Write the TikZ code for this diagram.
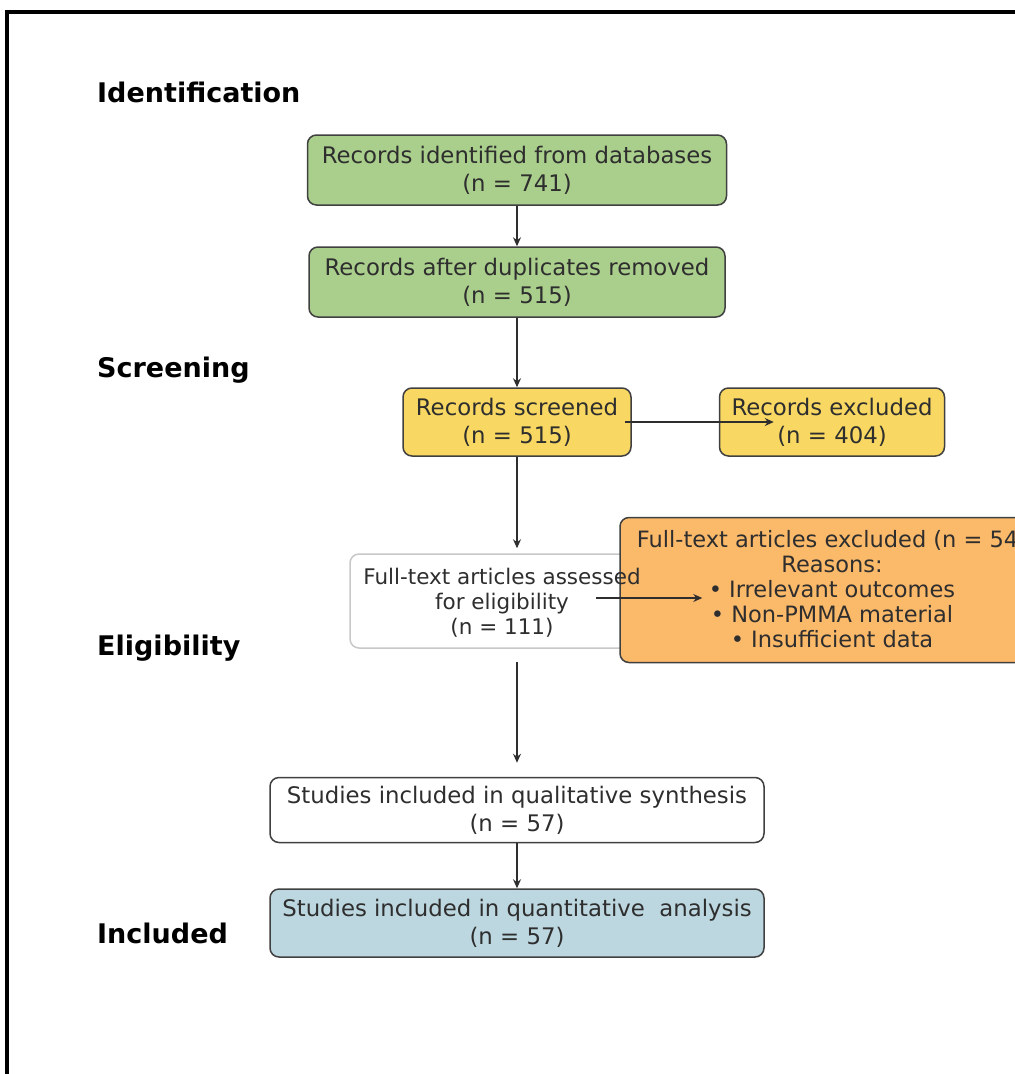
\documentclass[tikz,border=0pt]{standalone}
\usepackage{fontspec}
\setmainfont{DejaVu Sans}
\usepackage{tikz}
\usetikzlibrary{arrows.meta}

\definecolor{boxgreen}{HTML}{AACF8C}
\definecolor{boxyellow}{HTML}{F8D862}
\definecolor{boxorange}{HTML}{FBB96A}
\definecolor{boxblue}{HTML}{BDD7E0}
\definecolor{textgray}{HTML}{2E2E2E}
\definecolor{boxline}{HTML}{404040}
\definecolor{lightline}{HTML}{C8C8C8}

\begin{document}
\begin{tikzpicture}[
        x=1pt, y=-1pt,
        box/.style={draw=boxline, line width=1.5pt, rounded corners=9pt,
            align=center, text=textgray, inner sep=0pt,
            font=\fontsize{22.8}{28}\selectfont},
        boxtext/.style={align=center, text=textgray, inner sep=0pt,
            font=\fontsize{21.5}{25}\selectfont},
        phase/.style={anchor=west, inner sep=0pt, text=black,
            font=\fontsize{27}{30}\selectfont\bfseries},
        flow/.style={draw=textgray, line width=1.3pt,
            -{Stealth[length=9pt,width=8pt]}}
    ]
    \useasboundingbox (0,0) rectangle (1015,1074);
    \clip (0,0) rectangle (1015,1074);
    \fill[white] (0,0) rectangle (1015,1074);
    \draw[line width=4pt] (7,1080) -- (7,12) -- (1020,12);

    % phases
    \node[phase] (identification) at (97,92) {Identification};
    \node[phase] (screening) at (97,370) {Screening};
    \node[phase] (eligibility) at (97,648) {Eligibility};
    \node[phase] (included) at (97,933) {Included};

    % boxes
    \node[box, fill=boxgreen, minimum width=419pt, minimum height=70pt]
        (ident) at (517,170) {Records identified from databases\\(n = 741)};
    \node[box, fill=boxgreen, minimum width=416pt, minimum height=70pt]
        (dedup) at (517,282) {Records after duplicates removed\\(n = 515)};
    \node[box, fill=boxyellow, minimum width=228pt, minimum height=68pt]
        (screen) at (517,422) {Records screened\\(n = 515)};
    \node[box, fill=boxyellow, minimum width=225pt, minimum height=68pt]
        (excl) at (832,422) {Records excluded\\(n = 404)};
    \node[box, draw=lightline, fill=white, minimum width=310pt, minimum height=94pt]
        (assess) at (505,601) {};
    \node[box, fill=boxorange, minimum width=440pt, minimum height=145pt]
        (full) at (840,590) {};
    \node[boxtext] (assesstext) at (502,603)
        {Full-text articles assessed\\for eligibility\\(n = 111)};
    \node[boxtext, font=\fontsize{22.5}{25}\selectfont] (reasons) at (832,589)
        {Full-text articles excluded (n = 54)\\Reasons:\\• Irrelevant outcomes\\%
         • Non-PMMA material\\• Insufficient data};
    \node[box, fill=white, minimum width=494pt, minimum height=65pt]
        (qual) at (517,810) {Studies included in qualitative synthesis\\(n = 57)};
    \node[box, fill=boxblue, minimum width=494pt, minimum height=68pt]
        (quant) at (517,923) {Studies included in quantitative\ \ analysis\\(n = 57)};

    % arrows
    \draw[flow] (ident) -- (dedup);
    \draw[flow] (dedup) -- (screen);
    \draw[flow, shorten >=5pt] (screen.south) -- (screen.south |- assess.north);
    \draw[flow, shorten <=13pt, shorten >=14pt] (qual.north |- assess.south) -- (qual.north);
    \draw[flow] (qual) -- (quant);
    \draw[flow] ([xshift=-7pt]screen.east) -- ([xshift=55pt]excl.west);
    \draw[flow] ([xshift=-65pt,yshift=3pt]assess.east) -- ([xshift=83pt,yshift=-8pt]full.west);
\end{tikzpicture}
\end{document}
